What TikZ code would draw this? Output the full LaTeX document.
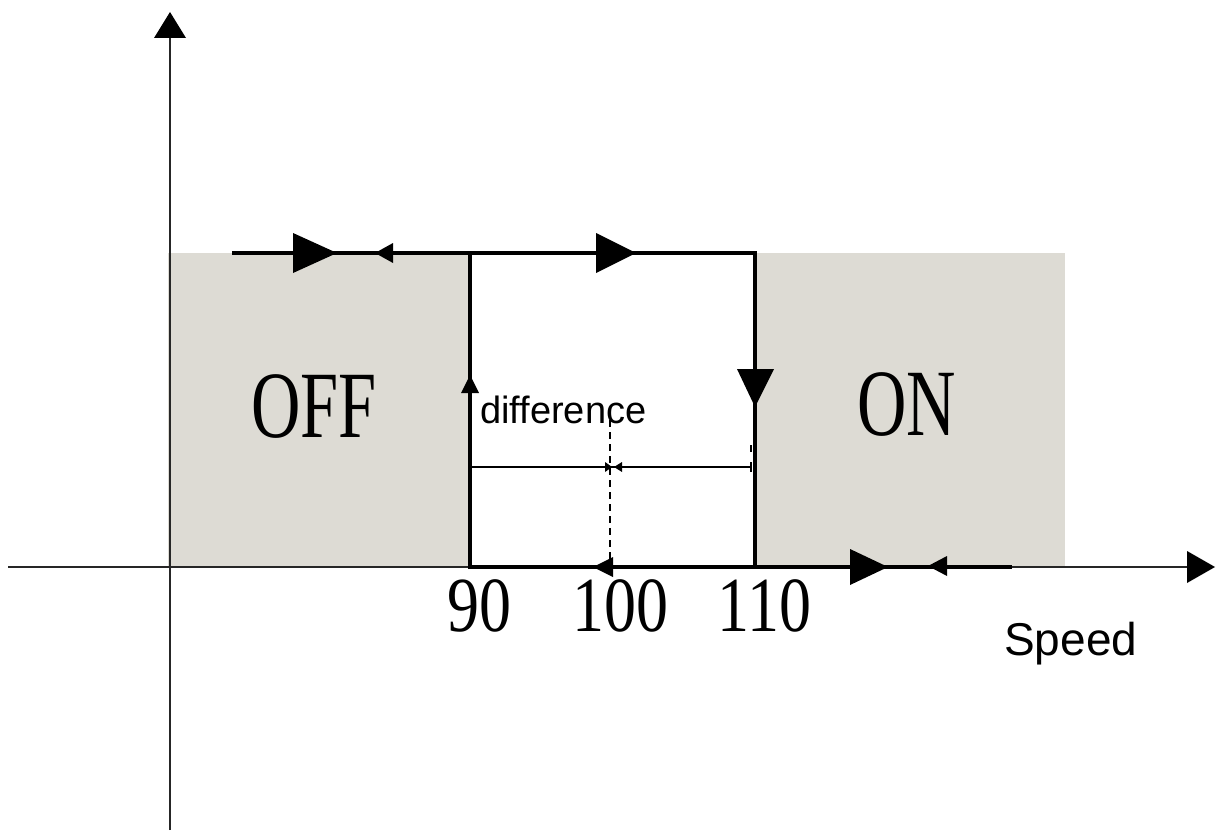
\documentclass[tikz,border=0pt]{standalone}
\usepackage{fontspec}
\setmainfont{Liberation Serif}
\newfontfamily\sansf{Liberation Sans}
\definecolor{zonegrey}{RGB}{221,219,212}
\begin{document}
\begin{tikzpicture}[x=1pt,y=-1pt,
  region/.style={fill=zonegrey,draw=none},
  loopline/.style={line width=3.5pt,line join=miter},
  axisline/.style={line width=1.5pt,draw=black!85},
  dimline/.style={line width=1.3pt},
  tipfill/.style={fill=black},
  bigtext/.style={font=\fontsize{95}{95}\selectfont,inner sep=0pt,xscale=0.72,anchor=base},
  numtext/.style={font=\fontsize{78}{78}\selectfont,inner sep=0pt,xscale=0.82,anchor=base},
  sanstext/.style={font=\sansf\fontsize{38}{38}\selectfont,inner sep=0pt,anchor=base west}]
\useasboundingbox (0,0) rectangle (1216,832);
% grey regions
\fill[region] (168,253) rectangle (470,566);
\fill[region] (755,253) rectangle (1065,566);
% axes
\draw[axisline] (170,830) -- (170,38);
\fill[tipfill] (170,12) -- (154,38) -- (186,38) -- cycle;
\draw[axisline] (8,567) -- (1188,567);
\fill[tipfill] (1215,567) -- (1187,551) -- (1187,583) -- cycle;
% hysteresis loop
\draw[loopline] (232,253) -- (755,253) -- (755,567);
\draw[loopline] (470,253) -- (470,567) -- (1012,567);
% arrowheads on loop
\fill[tipfill] (337,253) -- (293,233) -- (293,273) -- cycle;
\fill[tipfill] (375,253) -- (393,243) -- (393,263) -- cycle;
\fill[tipfill] (636,253) -- (596,233) -- (596,273) -- cycle;
\fill[tipfill] (755,407) -- (737,369) -- (774,369) -- cycle;
\fill[tipfill] (470,375) -- (461,393) -- (479,393) -- cycle;
\fill[tipfill] (593,567) -- (613,557) -- (613,577) -- cycle;
\fill[tipfill] (888,567) -- (850,549) -- (850,585) -- cycle;
\fill[tipfill] (928,566) -- (947,556) -- (947,576) -- cycle;
% difference dimension
\draw[dimline] (470,467) -- (752,467);
\draw[dimline,dash pattern=on 7pt off 5pt] (610,408) -- (610,566);
\fill[tipfill] (612,467) -- (605,462) -- (605,472) -- cycle;
\fill[tipfill] (614,467) -- (622,462) -- (622,472) -- cycle;
\draw[line width=2pt] (751,462) -- (751,472);
\draw[line width=2pt] (751,445) -- (751,452);
% texts
\node[bigtext] (off) at (314,437) {OFF};
\node[bigtext] (on) at (907,435) {ON};
\node[numtext] (n90) at (479.5,631) {90};
\node[numtext] (n100) at (620.5,631) {100};
\node[numtext] (n110) at (764.5,631) {110};
\node[sanstext] (diff) at (480,423) {difference};
\node[sanstext,font=\sansf\fontsize{46}{46}\selectfont] (speed) at (1004,655) {Speed};
\end{tikzpicture}
\end{document}
